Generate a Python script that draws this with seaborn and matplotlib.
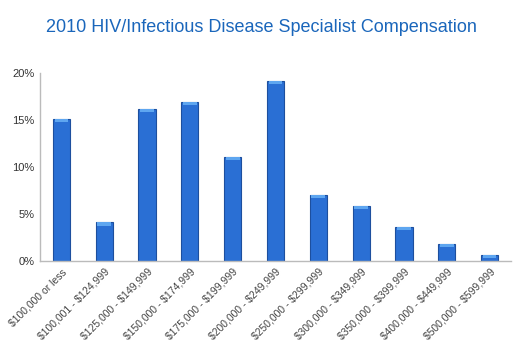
import pandas as pd
from matplotlib import pyplot as plt
import seaborn as sns

# salary brackets and share of specialists (percent)
brackets = ['$100,000 or less', '$100,001 - $124,999', '$125,000 - $149,999',
            '$150,000 - $174,999', '$175,000 - $199,999', '$200,000 - $249,999',
            '$250,000 - $299,999', '$300,000 - $349,999', '$350,000 - $399,999',
            '$400,000 - $449,999', '$500,000 - $599,999']
shares = [15.1, 4.1, 16.2, 16.9, 11.1, 19.2, 7.0, 5.9, 3.6, 1.8, 0.6]
y_ticks = [0, 5, 10, 15, 20]

df = pd.DataFrame({'Bracket': brackets, 'Share': shares})

sns.set_style('white')
plt.rcParams['font.family'] = ['Liberation Sans', 'DejaVu Sans']

fig = plt.figure(figsize=(5.22, 3.55), dpi=100)
ax = fig.add_axes([40 / 522, 1 - 261 / 355, 471 / 522, 188 / 355])

sns.barplot(x='Bracket', y='Share', data=df, color='#2a6fd4', width=0.4,
            edgecolor='#1d4f9e', linewidth=0.8, saturation=1, ax=ax)

# lighter cap on top of each bar
for p in ax.patches:
    x, w, h = p.get_x(), p.get_width(), p.get_height()
    ax.fill_between([x + w * 0.1, x + w * 0.9], h - min(0.35, h * 0.5), h,
                    color='#5ea6f0', lw=0, zorder=3)

ax.set_xlim(-0.5, len(brackets) - 0.5)
ax.set_ylim(0, 20)
ax.set_yticks(y_ticks)
ax.set_yticklabels([f'{t}%' for t in y_ticks], fontsize=8, color='#333333')
ax.set_xticks(range(len(brackets)))
# escape the dollar signs so they are not read as mathtext
ax.set_xticklabels([b.replace('$', r'\$') for b in brackets], rotation=45,
                   ha='right', rotation_mode='anchor', fontsize=7.5, color='#444444')
ax.set_xlabel('')
ax.set_ylabel('')
ax.tick_params(axis='both', length=0, pad=4)

for side in ['top', 'right']:
    ax.spines[side].set_visible(False)
for side in ['left', 'bottom']:
    ax.spines[side].set_color('#bbbbbb')
    ax.spines[side].set_linewidth(1)

fig.text(0.5, 1 - 27 / 355, '2010 HIV/Infectious Disease Specialist Compensation',
         ha='center', va='center', fontsize=13, color='#1a66bb')

fig.savefig('out.png', dpi=100)
